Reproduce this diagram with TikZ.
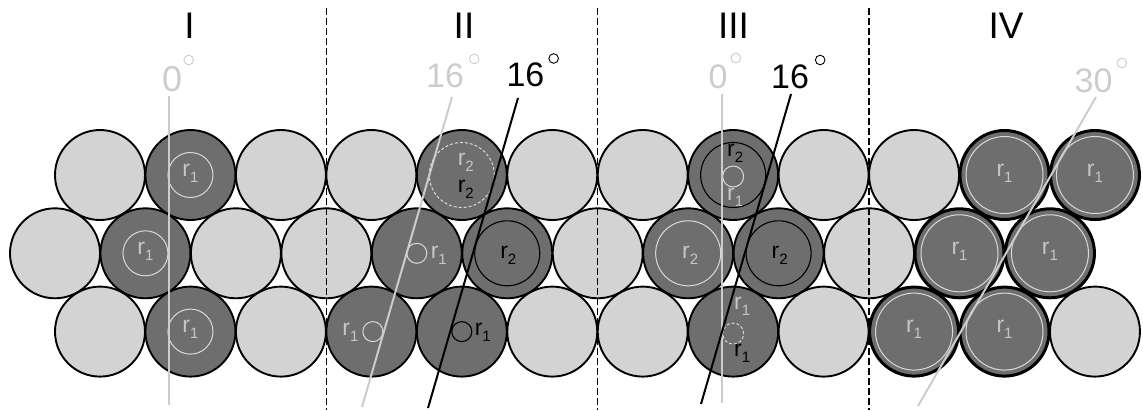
\documentclass[tikz,border=0pt]{standalone}
\usepackage{fontspec}
\setmainfont{Liberation Sans}
\definecolor{lightfill}{HTML}{D3D3D3}
\definecolor{darkfill}{HTML}{6E6E6E}
\definecolor{palegray}{HTML}{CCCCCC}
\definecolor{labgray}{HTML}{C6C6C6}
\definecolor{ringgray}{HTML}{DADADA}
\newcommand\numtxt{\fontsize{37}{42}\selectfont}
\newcommand\angtxt{\fontsize{34}{40}\selectfont}
\newcommand\angbig{\fontsize{36}{40}\selectfont}
\newcommand\dg[2]{\hspace{#1pt}\tikz[baseline=0pt]\draw[line width=0.9pt] (0pt,#2pt) circle (4.8pt);}
\newcommand\rl[1]{\fontsize{23}{26}\selectfont r\raisebox{-6pt}{\fontsize{15}{15}\selectfont #1}}
\tikzset{
  cyl/.style={circle, draw=black, line width=1.9pt, minimum size=90pt, inner sep=0pt},
  lt/.style={cyl, fill=lightfill},
  dk/.style={cyl, fill=darkfill},
  dkb/.style={cyl, fill=darkfill, line width=3pt, minimum size=89pt},
  wring/.style={draw=ringgray, line width=1pt},
  wdash/.style={draw=ringgray, line width=1pt, dash pattern=on 3pt off 2pt},
  bring/.style={draw=black, line width=1.1pt},
  glab/.style={inner sep=0pt, text=labgray},
  blab/.style={inner sep=0pt, text=black},
  roman/.style={inner sep=0pt, anchor=base, font=\numtxt},
  ang/.style={inner sep=0pt, anchor=base west, font=\angtxt},
  gline/.style={draw=palegray, line width=2pt},
  kline/.style={draw=black, line width=2pt},
  sep/.style={draw=black, line width=1.3pt, dash pattern=on 7pt off 3pt},
}
\begin{document}
\begin{tikzpicture}[x=1pt,y=-1pt]
\useasboundingbox (0,0) rectangle (1143,410);
% top row
\node[lt]  (t0)  at (100,175) {};
\node[dk]  (t1)  at (190.45,175) {};
\node[lt]  (t2)  at (280.9,175) {};
\node[lt]  (t3)  at (371.35,175) {};
\node[dk]  (t4)  at (461.8,175) {};
\node[lt]  (t5)  at (552.25,175) {};
\node[lt]  (t6)  at (642.7,175) {};
\node[dk]  (t7)  at (733.15,175) {};
\node[lt]  (t8)  at (823.6,175) {};
\node[lt]  (t9)  at (914.05,175) {};
\node[dkb] (t10) at (1004.5,175) {};
\node[dkb] (t11) at (1094.95,175) {};
% middle row
\node[lt]  (m0)  at (55,253.3) {};
\node[dk]  (m1)  at (145.45,253.3) {};
\node[lt]  (m2)  at (235.9,253.3) {};
\node[lt]  (m3)  at (326.35,253.3) {};
\node[dk]  (m4)  at (416.8,253.3) {};
\node[dk]  (m5)  at (507.25,253.3) {};
\node[lt]  (m6)  at (597.7,253.3) {};
\node[dk]  (m7)  at (688.15,253.3) {};
\node[dk]  (m8)  at (778.6,253.3) {};
\node[lt]  (m9)  at (869.05,253.3) {};
\node[dkb] (m10) at (959.5,253.3) {};
\node[dkb] (m11) at (1049.95,253.3) {};
% bottom row
\node[lt]  (b0)  at (100,331.6) {};
\node[dk]  (b1)  at (190.45,331.6) {};
\node[lt]  (b2)  at (280.9,331.6) {};
\node[dk]  (b3)  at (371.35,331.6) {};
\node[dk]  (b4)  at (461.8,331.6) {};
\node[lt]  (b5)  at (552.25,331.6) {};
\node[lt]  (b6)  at (642.7,331.6) {};
\node[dk]  (b7)  at (733.15,331.6) {};
\node[lt]  (b8)  at (823.6,331.6) {};
\node[dkb] (b9)  at (914.05,331.6) {};
\node[dkb] (b10) at (1004.5,331.6) {};
\node[lt]  (b11) at (1094.95,331.6) {};

% Panel I
\foreach \c in {t1,m1,b1}{
  \draw[wring] (\c) circle (22.5pt);
  \node[glab] (l\c) at ([yshift=2pt]\c) {\rl{1}};
}
% Panel II
\draw[wdash] (t4) circle (32.5pt);
\node[glab] (lt4a) at ([shift={(4,-13)}]t4) {\rl{2}};
\node[blab] (lt4b) at ([shift={(4,14)}]t4) {\rl{2}};
\draw[wring] (m4) circle (10pt);
\node[glab] (lm4) at ([shift={(22,2)}]m4) {\rl{1}};
\draw[bring] (m5) circle (32.5pt);
\node[blab] (lm5) at ([shift={(1,2)}]m5) {\rl{2}};
\draw[wring] ([xshift=1.5pt]b3) circle (10pt);
\node[glab] (lb3) at ([shift={(-21,1)}]b3) {\rl{1}};
\draw[bring] (b4) circle (10pt);
\node[blab] (lb4) at ([shift={(21,1)}]b4) {\rl{1}};
% Panel III
\draw[bring] (t7) circle (32.5pt);
\draw[wring] ([yshift=-1.5pt]t7) circle (10.5pt);
\node[blab] (lt7a) at ([shift={(2,-22)}]t7) {\rl{2}};
\node[glab] (lt7b) at ([shift={(2,22)}]t7) {\rl{1}};
\draw[wring] (m7) circle (32.5pt);
\node[glab] (lm7) at ([shift={(2,2)}]m7) {\rl{2}};
\draw[bring] (m8) circle (32.5pt);
\node[blab] (lm8) at ([shift={(1,2)}]m8) {\rl{2}};
\draw[wdash] ([yshift=-2pt]b7) circle (10.5pt);
\node[glab] (lb7a) at ([shift={(9,-25)}]b7) {\rl{1}};
\node[blab] (lb7b) at ([shift={(9,22)}]b7) {\rl{1}};
% Panel IV
\foreach \c in {t10,t11,m10,m11,b9,b10}{
  \draw[wring] (\c) circle (38.5pt);
  \node[glab] (l\c) at ([yshift=2pt]\c) {\rl{1}};
}

% separators
\coordinate (s1a) at (326.35,8);  \coordinate (s1b) at (326.35,410);
\coordinate (s2a) at (597.7,8);   \coordinate (s2b) at (597.7,410);
\coordinate (s3a) at (869.05,8);  \coordinate (s3b) at (869.05,410);
\draw[sep] (s1a) -- (s1b);
\draw[sep] (s2a) -- (s2b);
\draw[sep] (s3a) -- (s3b);

% titles
\node[roman] (r1) at (189.5,38.5) {I};
\node[roman] (r2) at (464,38.5) {II};
\node[roman] (r3) at (733.5,38.5) {III};
\node[roman] (r4) at (1006,38.5) {IV};

% angle labels
\node[ang, font=\angbig, text=palegray] (a1) at (161.8,91) {0\dg{1.4}{31}};
\node[ang, text=palegray] (a2) at (426,87) {16\dg{5}{28}};
\node[ang] (a3) at (506.3,86) {16\dg{4.1}{27.5}};
\node[ang, text=palegray] (a4) at (708.5,88) {0\dg{3}{30}};
\node[ang] (a5) at (771,88.5) {16\dg{5.9}{28.5}};
\node[ang, text=palegray] (a6) at (1074.5,92.5) {30\dg{4.1}{29.5}};

% angle lines
\coordinate (g1a) at (169,96);   \coordinate (g1b) at (169,405);
\coordinate (g2a) at (452,97);   \coordinate (g2b) at (362,407);
\coordinate (k2a) at (518,98);   \coordinate (k2b) at (428,408);
\coordinate (g3a) at (722,94);   \coordinate (g3b) at (722,403);
\coordinate (k3a) at (791,94);   \coordinate (k3b) at (701,404);
\coordinate (g4a) at (1096,97);  \coordinate (g4b) at (918,406);
\draw[gline] (g1a) -- (g1b);
\draw[gline] (g2a) -- (g2b);
\draw[kline] (k2a) -- (k2b);
\draw[gline] (g3a) -- (g3b);
\draw[kline] (k3a) -- (k3b);
\draw[gline] (g4a) -- (g4b);
\end{tikzpicture}
\end{document}
